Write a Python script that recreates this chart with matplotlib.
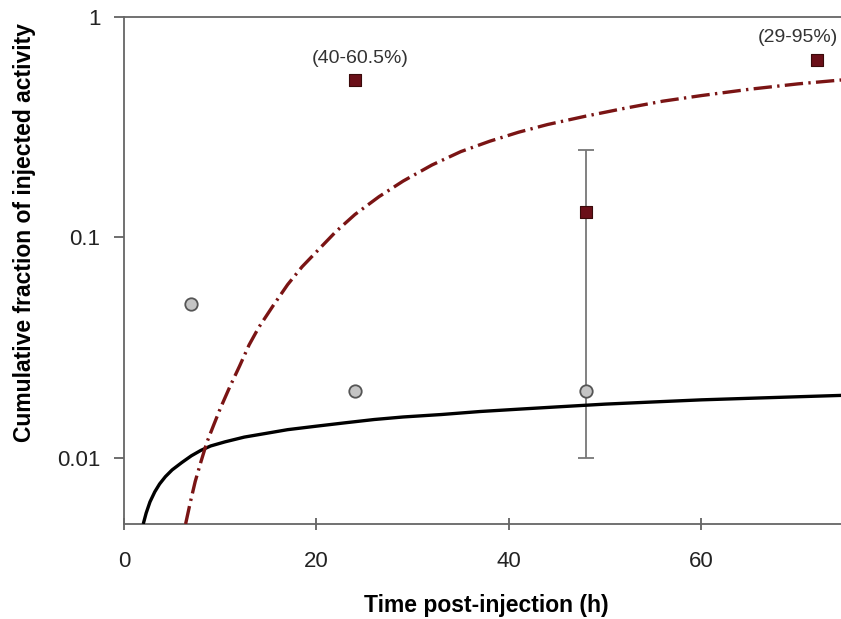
import matplotlib
matplotlib.use("Agg")
import matplotlib.pyplot as plt
from matplotlib.ticker import FixedLocator, FixedFormatter, NullLocator

plt.rcParams['font.family'] = ['Liberation Sans', 'DejaVu Sans']

# Measured data
circle_x = [7, 24, 48]
circle_y = [0.050, 0.020, 0.020]

square_x = [24, 48, 72]
square_y = [0.52, 0.13, 0.64]

err_x = 48
err_low = 0.010
err_high = 0.25

# Fitted curves
black_x = [2.0, 2.3, 2.7, 3.2, 3.7, 4.3, 5.0, 6.0, 7.0, 8.0, 9.0, 10.5, 12.5, 14.8, 17.0, 20.0,
           23.0, 26.0, 29.0, 33.0, 37.0, 41.0, 45.0, 50.0, 55.0, 60.0, 65.0, 70.0, 75.0]
black_y = [0.0050, 0.0056, 0.0063, 0.0070, 0.0076, 0.0082, 0.0088, 0.0095, 0.0102, 0.0108, 0.0113,
           0.0118, 0.0124, 0.0129, 0.0134, 0.0139, 0.0144, 0.0149, 0.0153, 0.0157, 0.0162, 0.0166,
           0.0170, 0.0175, 0.0179, 0.0183, 0.0186, 0.0189, 0.0192]

red_x = [6.4, 6.9, 7.4, 8.0, 8.6, 9.3, 10.0, 11.0, 12.0, 13.0, 14.0, 15.5, 17.0, 18.5, 20.0, 22.0,
         24.0, 26.5, 29.0, 32.0, 35.0, 38.0, 41.0, 44.0, 48.0, 52.0, 56.0, 60.0, 65.0, 70.0, 75.0]
red_y = [0.0050, 0.0063, 0.0078, 0.0096, 0.0117, 0.0140, 0.0167, 0.0210, 0.0260, 0.0325, 0.0390,
         0.0490, 0.0610, 0.0735, 0.0860, 0.1060, 0.1270, 0.1530, 0.1800, 0.2130, 0.2450, 0.2730,
         0.3000, 0.3250, 0.3550, 0.3850, 0.4150, 0.4400, 0.4700, 0.4970, 0.5200]

annotations = ["(40-60.5%)", "(29-95%)"]

fig = plt.figure(figsize=(8.41, 6.19), dpi=100)
ax = fig.add_axes([124/841, 1 - 524/619, 1 - 124/841, (524 - 17)/619])

ax.plot(black_x, black_y, color='black', lw=2.4, solid_capstyle='butt', zorder=3)
ax.plot(red_x, red_y, color='#7a1414', lw=2.4, dashes=(5.5, 1.6, 0.7, 1.6), zorder=3)

ax.errorbar([err_x], [0.02], yerr=[[0.02 - err_low], [err_high - 0.02]], fmt='none',
            ecolor='#777777', elinewidth=1.3, capsize=5.5, capthick=1.3, zorder=2)

ax.scatter(circle_x, circle_y, s=80, facecolor='#c4c4c4', edgecolor='#555555', linewidth=1.3, zorder=4)
ax.scatter(square_x, square_y, s=85, marker='s', facecolor='#6a0f18', edgecolor='#3a0a0a', linewidth=0.8, zorder=4)

ax.annotate(annotations[0], (square_x[0], square_y[0]), xytext=(3.6, 15.5), textcoords='offset points',
            ha='center', va='center', fontsize=14, color='#333333')
ax.annotate(annotations[1], (square_x[2], square_y[2]), xytext=(-13.7, 16), textcoords='offset points',
            ha='center', va='center', fontsize=14, color='#333333')

ax.set_yscale('log')
ax.set_xlim(0, 74.5)
ax.set_ylim(0.005, 1)

ax.xaxis.set_major_locator(FixedLocator([0, 20, 40, 60]))
ax.yaxis.set_major_locator(FixedLocator([0.01, 0.1, 1]))
ax.yaxis.set_major_formatter(FixedFormatter(['0.01', '0.1', '1']))
ax.yaxis.set_minor_locator(NullLocator())

ax.tick_params(axis='x', direction='inout', length=9, width=1.2, colors='#555555', labelcolor='#222222',
               labelsize=16, pad=15)
ax.tick_params(axis='y', direction='out', length=7, width=1.2, colors='#555555', labelcolor='#222222',
               labelsize=16, pad=10)

for s in ['left', 'bottom', 'top']:
    ax.spines[s].set_color('#666666')
    ax.spines[s].set_linewidth(1.3)
ax.spines['right'].set_visible(False)

ax.set_xlabel('Time post-injection (h)', fontsize=16.5, fontweight='bold')
ax.set_ylabel('Cumulative fraction of injected activity', fontsize=16.5, fontweight='bold')
ax.xaxis.set_label_coords(0.506, -0.138)
ax.yaxis.label.set_va('center')
ax.yaxis.label.set_ha('center')
ax.yaxis.set_label_coords(-0.139, 0.575)

fig.savefig('out.png', dpi=100)
